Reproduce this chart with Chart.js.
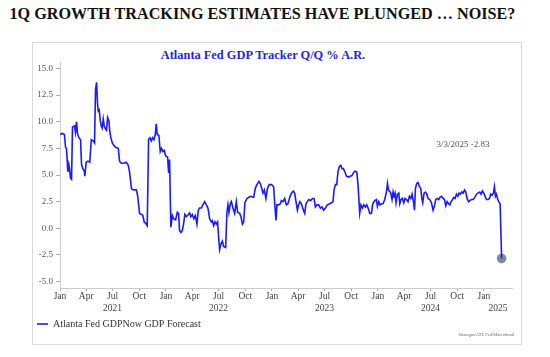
<!DOCTYPE html>
<html><head><meta charset="utf-8">
<script src="https://cdn.jsdelivr.net/npm/chart.js@4.4.1/dist/chart.umd.min.js"></script>
<style>
html,body{margin:0;padding:0;background:#fff;width:550px;height:357px;overflow:hidden;}
#hdr{position:absolute;left:0;top:5px;width:525px;text-align:center;font:bold 16.2px "Liberation Serif",serif;color:#111;white-space:nowrap;}
#box{position:absolute;left:32px;top:42px;width:488px;height:301px;border:1px solid #d9d9d9;}
#ttl{position:absolute;left:0;top:48px;width:526px;text-align:center;font:bold 12.4px "Liberation Serif",serif;color:#1f1fe6;white-space:nowrap;}
#wrap{position:absolute;left:0;top:0;width:550px;height:357px;}
</style></head>
<body>
<div id="hdr">1Q GROWTH TRACKING ESTIMATES HAVE PLUNGED … NOISE?</div>
<div id="box"></div>
<div id="ttl">Atlanta Fed GDP Tracker Q/Q % A.R.</div>
<div id="wrap"><canvas id="c" width="550" height="357"></canvas></div>
<script>
// dates as decimal years
const dates = [
2021.002,2021.021,2021.042,2021.052,2021.061,2021.074,2021.083,2021.090,2021.099,2021.109,
2021.118,2021.137,2021.146,2021.156,2021.165,2021.178,2021.194,2021.203,2021.215,2021.229,
2021.234,2021.247,2021.263,2021.281,2021.295,2021.314,2021.326,2021.335,2021.345,2021.354,
2021.361,2021.370,2021.380,2021.389,2021.398,2021.408,2021.417,2021.430,2021.439,2021.449,
2021.461,2021.470,2021.480,2021.493,2021.508,2021.524,2021.550,2021.562,2021.578,2021.602,
2021.625,2021.644,2021.656,2021.675,2021.697,2021.720,2021.732,2021.751,2021.770,2021.782,
2021.795,2021.807,2021.823,2021.836,2021.848,2021.861,2021.873,2021.886,2021.899,2021.908,
2021.918,2021.933,2021.946,2021.958,2021.971,2021.984,2021.996,2022.015,2022.025,2022.034,
2022.046,2022.060,2022.072,2022.091,2022.107,2022.119,2022.128,2022.141,2022.154,2022.166,
2022.178,2022.192,2022.204,2022.223,2022.235,2022.248,2022.263,2022.277,2022.292,2022.305,
2022.317,2022.333,2022.348,2022.365,2022.381,2022.396,2022.412,2022.428,2022.437,2022.450,
2022.462,2022.475,2022.487,2022.497,2022.506,2022.518,2022.532,2022.544,2022.563,2022.575,
2022.585,2022.594,2022.607,2022.617,2022.632,2022.648,2022.664,2022.676,2022.695,2022.707,
2022.721,2022.733,2022.745,2022.764,2022.789,2022.805,2022.827,2022.843,2022.858,2022.877,
2022.890,2022.903,2022.915,2022.928,2022.943,2022.958,2022.974,2022.996,2023.016,2023.025,
2023.038,2023.047,2023.063,2023.079,2023.089,2023.104,2023.120,2023.136,2023.151,2023.170,
2023.183,2023.202,2023.214,2023.227,2023.240,2023.252,2023.264,2023.278,2023.293,2023.309,
2023.321,2023.334,2023.347,2023.366,2023.382,2023.397,2023.410,2023.425,2023.441,2023.457,
2023.472,2023.488,2023.504,2023.523,2023.545,2023.561,2023.576,2023.586,2023.599,2023.611,
2023.623,2023.636,2023.649,2023.661,2023.674,2023.687,2023.703,2023.724,2023.743,2023.755,
2023.769,2023.781,2023.800,2023.812,2023.828,2023.840,2023.853,2023.866,2023.882,2023.894,
2023.907,2023.923,2023.939,2023.951,2023.970,2023.986,2023.995,2024.008,2024.020,2024.033,
2024.048,2024.064,2024.080,2024.090,2024.099,2024.109,2024.121,2024.133,2024.143,2024.152,
2024.162,2024.171,2024.184,2024.197,2024.206,2024.218,2024.231,2024.244,2024.256,2024.269,
2024.284,2024.297,2024.310,2024.322,2024.335,2024.345,2024.354,2024.366,2024.379,2024.392,
2024.404,2024.414,2024.423,2024.435,2024.448,2024.461,2024.473,2024.489,2024.505,2024.520,
2024.533,2024.546,2024.562,2024.574,2024.586,2024.600,2024.615,2024.628,2024.640,2024.653,
2024.666,2024.678,2024.690,2024.704,2024.716,2024.728,2024.741,2024.754,2024.766,2024.779,
2024.791,2024.804,2024.817,2024.829,2024.841,2024.855,2024.867,2024.883,2024.898,2024.914,
2024.930,2024.945,2024.961,2024.973,2024.986,2024.999,2025.011,2025.024,2025.039,2025.052,
2025.064,2025.077,2025.090,2025.099,2025.109,2025.118,2025.131,2025.140,2025.153,2025.167
];
const gdpNow = [
8.8,8.9,8.8,7.6,7.5,5.3,6.0,5.6,4.7,4.6,
9.5,9.6,9.0,10.0,8.9,8.5,8.3,6.0,5.6,5.4,
4.9,6.2,6.3,6.2,8.3,8.2,8.0,13.0,13.7,11.7,
11.0,11.1,10.1,9.6,9.4,10.25,9.6,9.3,9.2,10.4,
10.1,9.1,8.5,8.0,7.8,7.6,7.5,6.3,6.1,6.1,
6.2,5.9,5.3,3.7,3.6,3.6,3.1,1.4,1.3,1.2,
0.57,0.5,0.25,8.35,8.5,8.2,8.5,8.3,8.8,9.8,
8.8,8.7,7.2,7.5,7.2,7.3,6.8,6.7,5.2,6.45,
0.1,1.2,0.9,0.8,1.5,1.4,-0.2,-0.4,-0.2,0.4,
1.3,1.1,1.2,1.45,1.1,1.3,0.9,1.2,0.4,1.7,
1.9,1.9,2.2,2.5,2.2,1.9,0.9,0.6,0.7,0.25,
0.6,0.4,0.6,-0.86,-2.0,-1.5,-1.2,-1.7,-1.8,1.5,
2.2,1.5,2.3,2.5,1.9,1.4,2.5,1.5,1.4,1.1,
0.4,0.6,2.4,2.8,2.95,3.0,2.9,3.75,4.1,4.4,
4.2,3.75,3.3,3.6,2.8,3.75,4.1,4.1,3.9,2.5,
0.73,2.2,2.2,2.3,2.6,2.5,2.8,2.2,2.3,2.95,
3.3,3.5,3.3,2.5,1.7,2.2,2.5,2.3,1.8,1.4,
2.3,2.5,2.7,2.6,2.8,2.8,2.0,2.2,2.2,1.9,
2.0,1.7,1.9,2.2,2.3,2.4,2.5,3.6,4.1,4.1,
5.3,5.8,5.9,5.6,5.6,5.3,4.9,4.8,4.9,4.95,
5.2,5.35,5.3,4.1,1.4,2.2,1.9,2.2,2.0,2.2,
1.9,1.4,1.4,2.3,2.6,2.7,2.07,2.5,2.2,2.3,
2.3,2.7,3.4,4.2,3.6,3.5,3.3,2.7,3.4,3.0,
3.3,2.4,3.2,3.3,2.3,2.7,2.8,2.4,2.8,2.7,
2.5,3.0,2.8,3.2,2.5,1.7,3.75,4.2,4.3,3.9,
3.75,2.8,2.4,3.3,3.4,3.2,2.8,2.7,2.4,1.7,
2.1,2.7,2.8,2.7,2.9,3.0,2.8,2.7,2.1,2.5,
2.3,2.2,2.5,2.7,2.9,2.8,3.2,3.0,3.3,3.2,
3.4,3.3,3.6,3.4,2.8,2.5,2.6,2.7,2.7,2.9,
3.2,3.3,3.4,3.2,3.5,3.3,3.0,2.7,2.7,2.8,
3.2,3.1,3.3,3.9,3.0,3.2,2.7,2.5,2.3,-2.83
];
const lastDateLabel = "3/3/2025";
const monthTickPos = [2021.0,2021.247,2021.496,2021.748,2022.0,2022.247,2022.496,2022.748,
  2023.0,2023.247,2023.496,2023.748,2024.0,2024.247,2024.496,2024.748,2025.0];
const monthTickLabels = ["Jan","Apr","Jul","Oct","Jan","Apr","Jul","Oct","Jan","Apr","Jul","Oct","Jan","Apr","Jul","Oct","Jan"];
const yearTickPos = [2021.496,2022.496,2023.496,2024.496,2025.133];
const yearTickLabels = ["2021","2022","2023","2024","2025"];
const yTicks = [-5,-2.5,0,2.5,5,7.5,10,12.5,15];
const seriesName = "Atlanta Fed GDPNow GDP Forecast";
const sourceText = "Strategas/ATL Fed/Macrobond";

const serif = '"Liberation Serif", "Times New Roman", serif';
const pts = dates.map((d,i)=>({x:d,y:gdpNow[i]}));
const lastIdx = pts.length-1;

const extras = {
  id:'extras',
  afterDraw(chart){
    const ctx = chart.ctx;
    ctx.save();
    ctx.fillStyle = '#555';
    ctx.font = '9px ' + serif;
    ctx.textAlign = 'center';
    ctx.textBaseline = 'middle';
    ctx.fillText(lastDateLabel + ' ' + gdpNow[lastIdx].toFixed(2), 463, 145);
    ctx.font = '4.5px ' + serif;
    ctx.textAlign = 'right';
    ctx.fillStyle = '#666';
    ctx.fillText(sourceText, 514, 335);
    ctx.restore();
  }
};

new Chart(document.getElementById('c'), {
  type:'line',
  data:{datasets:[
    {label:seriesName, data:pts, borderColor:'#1a1aff', backgroundColor:'#1a1aff', borderWidth:1.6,
     pointRadius:0, pointHoverRadius:0, tension:0},
    {label:'last', data:[pts[lastIdx]], showLine:false, pointRadius:4.5,
     pointBackgroundColor:'rgba(112,124,150,0.9)', pointBorderColor:'rgba(100,110,135,0.9)', pointBorderWidth:0.5}
  ]},
  options:{
    responsive:false, animation:false, devicePixelRatio:1,
    layout:{padding:{left:34,right:38,top:62,bottom:18}},
    plugins:{
      title:{display:false}, tooltip:{enabled:false},
      legend:{position:'bottom', align:'start',
        labels:{filter:(it)=>it.datasetIndex===0, usePointStyle:true, pointStyle:'line', pointStyleWidth:11, boxWidth:11, boxHeight:10,
          padding:3, color:'#333', font:{family:serif, size:10}}}
    },
    scales:{
      x:{type:'linear', position:'bottom', min:2021.0, max:2025.265, weight:0,
        afterBuildTicks:(s)=>{s.ticks = monthTickPos.map(v=>({value:v}));},
        afterFit:(s)=>{s.height=14;},
        ticks:{autoSkip:false, maxRotation:0, padding:0, color:'#444', font:{family:serif,size:9.5},
          callback:(v,i)=>monthTickLabels[i]},
        grid:{drawOnChartArea:false, tickLength:3, color:'#aaa'},
        border:{color:'#ccc'}},
      x2:{type:'linear', position:'bottom', min:2021.0, max:2025.265, weight:1,
        afterBuildTicks:(s)=>{s.ticks = yearTickPos.map(v=>({value:v}));},
        afterFit:(s)=>{s.height=14;},
        ticks:{autoSkip:false, maxRotation:0, padding:1, color:'#444', font:{family:serif,size:9.5},
          callback:(v,i)=>yearTickLabels[i]},
        grid:{display:false, drawTicks:false}, border:{display:false}},
      y:{type:'linear', min:-5.6, max:15.6,
        afterBuildTicks:(s)=>{s.ticks = yTicks.map(v=>({value:v}));},
        afterFit:(s)=>{s.width=26;},
        ticks:{padding:3, color:'#555', font:{family:serif,size:9}, callback:(v)=>Number(v).toFixed(1)},
        grid:{drawOnChartArea:false, tickLength:4, color:'#aaa'},
        border:{color:'#ccc'}}
    }
  },
  plugins:[extras]
});
</script>
</body></html>
